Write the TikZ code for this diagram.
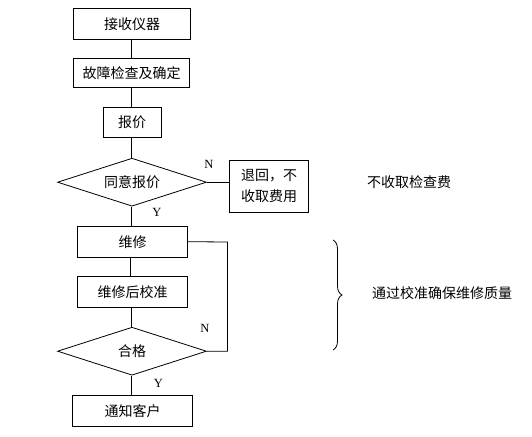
\documentclass[tikz,border=0pt]{standalone}
\usepackage{fontspec}
\newfontfamily\cjk{Noto Sans CJK SC}
\newfontfamily\lab{Liberation Serif}
\usetikzlibrary{shapes.geometric,decorations.pathreplacing}
\begin{document}
\begin{tikzpicture}[x=1pt,y=-1pt,
  every node/.style={font=\cjk\fontsize{14}{21}\selectfont},
  box/.style={draw,line width=0.8pt,inner sep=0pt,minimum width=#1,minimum height=31pt},
  dia/.style={draw,line width=0.8pt,shape=diamond,aspect=3.13,inner sep=0pt,minimum width=149pt,minimum height=48pt},
  yn/.style={font=\lab\fontsize{12.5}{14}\selectfont,inner sep=0pt},
  line/.style={line width=0.8pt},
  note/.style={inner sep=0pt}]
\useasboundingbox (0,0) rectangle (532,436);
\node[box=117pt] (r1) at (132,23.8) {接收仪器};
\node[box=116.6pt,minimum height=29pt] (r2) at (131.5,72.8) {故障检查及确定};
\node[box=57.7pt,minimum height=30.4pt] (r3) at (132.2,122.5) {报价};
\node[dia] (d1) at (132,182.2) {同意报价};
\node[box=79.4pt,minimum height=52.7pt,align=left] (back) at (269,186.3) {退回，不\\收取费用};
\node[box=110.4pt,minimum height=31.3pt] (r4) at (132.5,241.7) {维修};
\node[box=110.4pt,minimum height=31.3pt] (r5) at (132.5,291.7) {维修后校准};
\node[dia] (d2) at (132,351.2) {合格};
\node[box=120pt] (r6) at (132.7,411.2) {通知客户};
\node[note] (n1) at (409,181.7) {不收取检查费};
\node[note] (n2) at (442,293.5) {通过校准确保维修质量};
\node[yn] (yn1) at (209,164) {N};
\node[yn] (yn2) at (157,212.5) {Y};
\node[yn] (yn3) at (205,328) {N};
\node[yn] (yn4) at (158.5,383) {Y};
\coordinate (loop) at (227.5,242);
\coordinate (bt) at (333,240);
\coordinate (bb) at (333,350);
\draw[line] (r1.south -| 131.7,0) -- (r2.north -| 131.7,0);
\draw[line] (r2.south -| 131.7,0) -- (r3.north -| 131.7,0);
\draw[line] (r3.south -| 131.7,0) -- (d1.north -| 131.7,0);
\draw[line] (d1.south -| 131.7,0) -- (r4.north -| 131.7,0);
\draw[line] (r4.south -| 130.7,0) -- (r5.north -| 130.7,0);
\draw[line] (r5.south -| 131.7,0) -- (d2.north -| 131.7,0);
\draw[line] (d2.south -| 131.7,0) -- (r6.north -| 131.7,0);
\draw[line] (d1.east) -- (d1.east -| back.west);
\draw[line] (r4.east) -- (loop) |- (d2.east);
\draw[line,decorate,decoration={brace,amplitude=9pt}] (bt) -- (bb);
\end{tikzpicture}
\end{document}
